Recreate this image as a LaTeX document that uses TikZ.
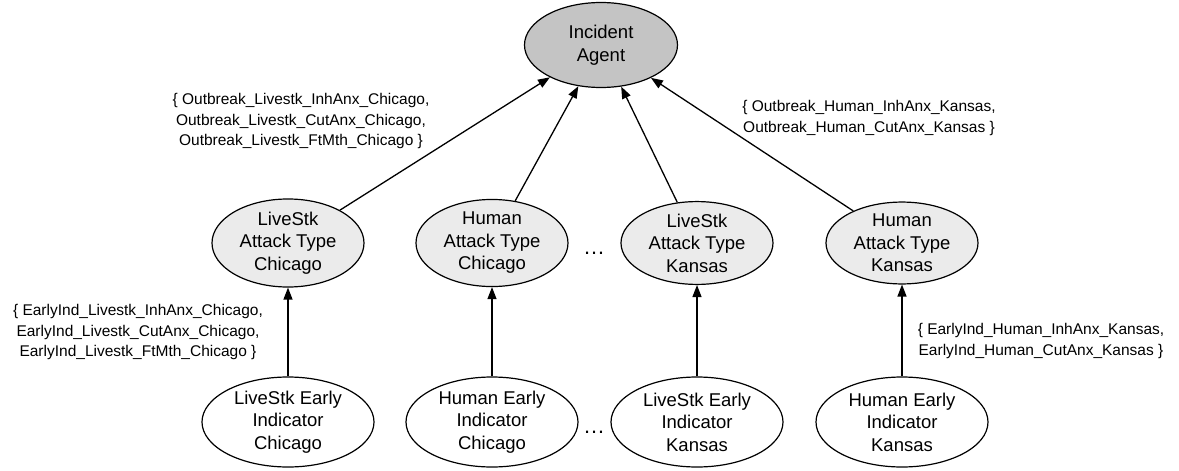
\documentclass[tikz,border=0pt]{standalone}
\usepackage{fontspec}
\setmainfont{Liberation Sans}
\usetikzlibrary{shapes.geometric,arrows.meta}
\begin{document}
\begin{tikzpicture}[x=1pt,y=-1pt,
  ell/.style={ellipse,draw=black,line width=1.2pt,inner sep=0pt,align=center,
    font=\fontsize{18.5}{22.5}\selectfont},
  topnode/.style={ell,fill=topgray,minimum width=153pt,minimum height=85pt},
  midnode/.style={ell,fill=midgray,minimum width=152pt,minimum height=80pt},
  lownode/.style={ell,fill=white,minimum width=172pt,minimum height=90pt},
  lbl/.style={align=center,inner sep=0pt,font=\fontsize{15.5}{20.5}\selectfont},
  dotsnode/.style={anchor=base,inner sep=0pt,font=\fontsize{22}{24}\selectfont},
  arr/.style={line width=1.3pt,-{Triangle[length=12pt,width=9pt]}}
]
\definecolor{topgray}{RGB}{196,196,196}
\definecolor{midgray}{RGB}{235,235,235}
\useasboundingbox (0,0) rectangle (1179,471);

\node[topnode] (ia) at (601,45) {Incident\\Agent};

\node[midnode] (lc) at (288,243) {LiveStk\\Attack Type\\Chicago};
\node[midnode] (hc) at (492,243) {Human\\Attack Type\\Chicago};
\node[midnode] (lk) at (697,243) {LiveStk\\Attack Type\\Kansas};
\node[midnode] (hk) at (902,243) {Human\\Attack Type\\Kansas};

\node[lownode] (elc) at (288,422) {LiveStk Early\\Indicator\\Chicago};
\node[lownode] (ehc) at (492,422) {Human Early\\Indicator\\Chicago};
\node[lownode] (elk) at (697,422) {LiveStk Early\\Indicator\\Kansas};
\node[lownode] (ehk) at (902,422) {Human Early\\Indicator\\Kansas};

\node[dotsnode] (dm) at (594,254) {…};
\node[dotsnode] (db) at (594,433) {…};

\draw[arr] (lc) -- (ia);
\draw[arr] (hc) -- (ia);
\draw[arr] (lk) -- (ia);
\draw[arr] (hk) -- (ia);

\draw[arr] (elc) -- (lc);
\draw[arr] (ehc) -- (hc);
\draw[arr] (elk) -- (lk);
\draw[arr] (ehk) -- (hk);

\node[lbl] (l1) at (301,121) {\{ Outbreak\_Livestk\_InhAnx\_Chicago,\\Outbreak\_Livestk\_CutAnx\_Chicago,\\Outbreak\_Livestk\_FtMth\_Chicago \}};
\node[lbl] (l2) at (869,118) {\{ Outbreak\_Human\_InhAnx\_Kansas,\\Outbreak\_Human\_CutAnx\_Kansas \}};
\node[lbl] (l3) at (138,332) {\{ EarlyInd\_Livestk\_InhAnx\_Chicago,\\EarlyInd\_Livestk\_CutAnx\_Chicago,\\EarlyInd\_Livestk\_FtMth\_Chicago \}};
\node[lbl] (l4) at (1041,341) {\{ EarlyInd\_Human\_InhAnx\_Kansas,\\EarlyInd\_Human\_CutAnx\_Kansas \}};
\end{tikzpicture}
\end{document}
